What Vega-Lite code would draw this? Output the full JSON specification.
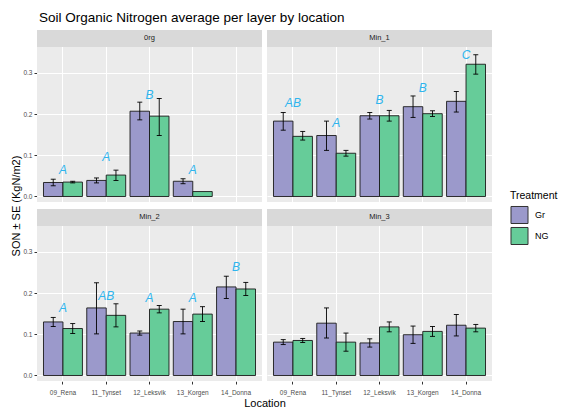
{
  "$schema": "https://vega.github.io/schema/vega-lite/v6.json",
  "padding": {"left": 10, "top": 10, "right": 0, "bottom": 0},
  "title": {"text": "Soil Organic Nitrogen average per layer by location", "anchor": "start", "fontSize": 13.5, "fontWeight": "normal", "color": "#000000", "offset": 6, "dx": 28},
  "datasets": {
    "panels": [
      {"layer": "0rg", "prow": "1", "pcol": "1"},
      {"layer": "Min_1", "prow": "1", "pcol": "2"},
      {"layer": "Min_2", "prow": "2", "pcol": "1"},
      {"layer": "Min_3", "prow": "2", "pcol": "2"}
    ],
    "son": [
      {"layer": "0rg", "location": "09_Rena", "treatment": "Gr", "son": 0.034, "lo": 0.026, "hi": 0.042},
      {"layer": "0rg", "location": "09_Rena", "treatment": "NG", "son": 0.035, "lo": 0.033, "hi": 0.037},
      {"layer": "0rg", "location": "11_Tynset", "treatment": "Gr", "son": 0.039, "lo": 0.033, "hi": 0.045},
      {"layer": "0rg", "location": "11_Tynset", "treatment": "NG", "son": 0.052, "lo": 0.039, "hi": 0.064},
      {"layer": "0rg", "location": "12_Leksvik", "treatment": "Gr", "son": 0.207, "lo": 0.186, "hi": 0.229},
      {"layer": "0rg", "location": "12_Leksvik", "treatment": "NG", "son": 0.195, "lo": 0.148, "hi": 0.238},
      {"layer": "0rg", "location": "13_Korgen", "treatment": "Gr", "son": 0.037, "lo": 0.031, "hi": 0.043},
      {"layer": "0rg", "location": "13_Korgen", "treatment": "NG", "son": 0.012, "lo": null, "hi": null},
      {"layer": "Min_1", "location": "09_Rena", "treatment": "Gr", "son": 0.183, "lo": 0.161, "hi": 0.204},
      {"layer": "Min_1", "location": "09_Rena", "treatment": "NG", "son": 0.146, "lo": 0.137, "hi": 0.158},
      {"layer": "Min_1", "location": "11_Tynset", "treatment": "Gr", "son": 0.148, "lo": 0.112, "hi": 0.183},
      {"layer": "Min_1", "location": "11_Tynset", "treatment": "NG", "son": 0.105, "lo": 0.098, "hi": 0.112},
      {"layer": "Min_1", "location": "12_Leksvik", "treatment": "Gr", "son": 0.196, "lo": 0.188, "hi": 0.204},
      {"layer": "Min_1", "location": "12_Leksvik", "treatment": "NG", "son": 0.196, "lo": 0.183, "hi": 0.209},
      {"layer": "Min_1", "location": "13_Korgen", "treatment": "Gr", "son": 0.218, "lo": 0.192, "hi": 0.244},
      {"layer": "Min_1", "location": "13_Korgen", "treatment": "NG", "son": 0.201, "lo": 0.194, "hi": 0.208},
      {"layer": "Min_1", "location": "14_Donna", "treatment": "Gr", "son": 0.231, "lo": 0.205, "hi": 0.255},
      {"layer": "Min_1", "location": "14_Donna", "treatment": "NG", "son": 0.321, "lo": 0.297, "hi": 0.344},
      {"layer": "Min_2", "location": "09_Rena", "treatment": "Gr", "son": 0.130, "lo": 0.119, "hi": 0.141},
      {"layer": "Min_2", "location": "09_Rena", "treatment": "NG", "son": 0.114, "lo": 0.102, "hi": 0.126},
      {"layer": "Min_2", "location": "11_Tynset", "treatment": "Gr", "son": 0.164, "lo": 0.101, "hi": 0.225},
      {"layer": "Min_2", "location": "11_Tynset", "treatment": "NG", "son": 0.146, "lo": 0.118, "hi": 0.174},
      {"layer": "Min_2", "location": "12_Leksvik", "treatment": "Gr", "son": 0.103, "lo": 0.098, "hi": 0.108},
      {"layer": "Min_2", "location": "12_Leksvik", "treatment": "NG", "son": 0.161, "lo": 0.152, "hi": 0.170},
      {"layer": "Min_2", "location": "13_Korgen", "treatment": "Gr", "son": 0.131, "lo": 0.101, "hi": 0.161},
      {"layer": "Min_2", "location": "13_Korgen", "treatment": "NG", "son": 0.149, "lo": 0.131, "hi": 0.167},
      {"layer": "Min_2", "location": "14_Donna", "treatment": "Gr", "son": 0.215, "lo": 0.187, "hi": 0.241},
      {"layer": "Min_2", "location": "14_Donna", "treatment": "NG", "son": 0.210, "lo": 0.194, "hi": 0.226},
      {"layer": "Min_3", "location": "09_Rena", "treatment": "Gr", "son": 0.081, "lo": 0.075, "hi": 0.087},
      {"layer": "Min_3", "location": "09_Rena", "treatment": "NG", "son": 0.085, "lo": 0.080, "hi": 0.090},
      {"layer": "Min_3", "location": "11_Tynset", "treatment": "Gr", "son": 0.127, "lo": 0.091, "hi": 0.164},
      {"layer": "Min_3", "location": "11_Tynset", "treatment": "NG", "son": 0.081, "lo": 0.059, "hi": 0.103},
      {"layer": "Min_3", "location": "12_Leksvik", "treatment": "Gr", "son": 0.079, "lo": 0.069, "hi": 0.089},
      {"layer": "Min_3", "location": "12_Leksvik", "treatment": "NG", "son": 0.118, "lo": 0.106, "hi": 0.130},
      {"layer": "Min_3", "location": "13_Korgen", "treatment": "Gr", "son": 0.099, "lo": 0.078, "hi": 0.120},
      {"layer": "Min_3", "location": "13_Korgen", "treatment": "NG", "son": 0.107, "lo": 0.095, "hi": 0.119},
      {"layer": "Min_3", "location": "14_Donna", "treatment": "Gr", "son": 0.122, "lo": 0.096, "hi": 0.148},
      {"layer": "Min_3", "location": "14_Donna", "treatment": "NG", "son": 0.115, "lo": 0.106, "hi": 0.124},
      {"layer": "0rg", "location": "09_Rena", "letter": "A", "ly": 0.065},
      {"layer": "0rg", "location": "11_Tynset", "letter": "A", "ly": 0.095},
      {"layer": "0rg", "location": "12_Leksvik", "letter": "B", "ly": 0.247},
      {"layer": "0rg", "location": "13_Korgen", "letter": "A", "ly": 0.065},
      {"layer": "Min_1", "location": "09_Rena", "letter": "AB", "ly": 0.226},
      {"layer": "Min_1", "location": "11_Tynset", "letter": "A", "ly": 0.178},
      {"layer": "Min_1", "location": "12_Leksvik", "letter": "B", "ly": 0.234},
      {"layer": "Min_1", "location": "13_Korgen", "letter": "B", "ly": 0.263},
      {"layer": "Min_1", "location": "14_Donna", "letter": "C", "ly": 0.344},
      {"layer": "Min_2", "location": "09_Rena", "letter": "A", "ly": 0.165},
      {"layer": "Min_2", "location": "11_Tynset", "letter": "AB", "ly": 0.193},
      {"layer": "Min_2", "location": "12_Leksvik", "letter": "A", "ly": 0.188},
      {"layer": "Min_2", "location": "13_Korgen", "letter": "A", "ly": 0.188},
      {"layer": "Min_2", "location": "14_Donna", "letter": "B", "ly": 0.264}
    ]
  },
  "data": {"name": "son"},
  "transform": [
    {"lookup": "layer", "from": {"data": {"name": "panels"}, "key": "layer", "fields": ["prow", "pcol"]}}
  ],
  "facet": {
    "row": {"field": "prow", "type": "nominal", "header": {"labels": false, "labelPadding": 0, "title": "SON ± SE (KgN/m2)", "titleFontSize": 11, "titleFontWeight": "normal", "titleColor": "#000000", "titlePadding": -10}},
    "column": {"field": "pcol", "type": "nominal", "header": {"labels": false, "labelPadding": 0, "title": "Location", "titleOrient": "bottom", "titleFontSize": 11, "titleFontWeight": "normal", "titleColor": "#000000", "titlePadding": -8}}
  },
  "spacing": {"row": 7, "column": 5},
  "spec": {
    "width": 225,
    "height": 172,
    "layer": [
      {
        "transform": [{"filter": "datum.son != null"}],
        "mark": {"type": "bar", "stroke": "#1A1A1A", "strokeWidth": 0.9},
        "encoding": {
          "x": {"field": "location", "type": "nominal", "scale": {"domain": ["09_Rena", "11_Tynset", "12_Leksvik", "13_Korgen", "14_Donna"], "paddingInner": 0.1, "paddingOuter": 0.15},
            "axis": {"title": null, "bandPosition": 0.5, "grid": true, "gridColor": "#FFFFFF", "gridWidth": 1, "labelFontSize": 6.5, "labelColor": "#4D4D4D", "tickColor": "#333333", "tickSize": 3, "domain": false, "labelPadding": 5, "labelAngle": 0}},
          "xOffset": {"field": "treatment", "type": "nominal", "scale": {"domain": ["Gr", "NG"]}},
          "y": {"field": "son", "type": "quantitative", "scale": {"domain": [-0.01335, 0.4041], "nice": false, "zero": false},
            "axis": {"title": null, "values": [0, 0.05, 0.1, 0.15, 0.2, 0.25, 0.3, 0.35], "labelExpr": "round(datum.value*20)%2==0 ? format(datum.value, '.1f') : ''",
              "gridColor": "#FFFFFF", "gridWidth": {"condition": {"test": "round(datum.value*20)%2==1", "value": 0.5}, "value": 1},
              "tickOpacity": {"condition": {"test": "round(datum.value*20)%2==1", "value": 0}, "value": 1},
              "tickColor": "#333333", "tickSize": 3, "labelFontSize": 6.5, "labelColor": "#4D4D4D", "domain": false, "labelPadding": 2}},
          "color": {"field": "treatment", "type": "nominal", "scale": {"domain": ["Gr", "NG"], "range": ["#9B99CB", "#66CC99"]},
            "legend": {"orient": "none", "legendX": 473, "legendY": 161, "title": "Treatment", "titleFontSize": 10.5, "titleFontWeight": "normal", "titleColor": "#000000", "titlePadding": 4, "labelFontSize": 9, "labelColor": "#000000", "labelOffset": 6, "symbolType": "square", "symbolSize": 290, "symbolStrokeColor": "#333333", "symbolStrokeWidth": 1, "symbolOpacity": 1, "rowPadding": -4}}
        }
      },
      {
        "transform": [{"filter": "datum.lo != null"}],
        "mark": {"type": "rule", "color": "#000000", "strokeWidth": 0.9},
        "encoding": {
          "x": {"field": "location", "type": "nominal"},
          "xOffset": {"field": "treatment", "type": "nominal"},
          "y": {"field": "lo", "type": "quantitative"},
          "y2": {"field": "hi"}
        }
      },
      {
        "transform": [{"filter": "datum.lo != null"}],
        "mark": {"type": "tick", "color": "#000000", "thickness": 0.9, "size": 5, "orient": "horizontal", "opacity": 1},
        "encoding": {
          "x": {"field": "location", "type": "nominal"},
          "xOffset": {"field": "treatment", "type": "nominal"},
          "y": {"field": "lo", "type": "quantitative"}
        }
      },
      {
        "transform": [{"filter": "datum.hi != null"}],
        "mark": {"type": "tick", "color": "#000000", "thickness": 0.9, "size": 5, "orient": "horizontal", "opacity": 1},
        "encoding": {
          "x": {"field": "location", "type": "nominal"},
          "xOffset": {"field": "treatment", "type": "nominal"},
          "y": {"field": "hi", "type": "quantitative"}
        }
      },
      {
        "transform": [{"filter": "datum.letter != null"}],
        "mark": {"type": "text", "color": "#2FB5EE", "fontStyle": "italic", "fontSize": 12},
        "encoding": {
          "x": {"field": "location", "type": "nominal"},
          "y": {"field": "ly", "type": "quantitative"},
          "text": {"field": "letter"}
        }
      },
      {
        "transform": [{"filter": "datum.treatment == 'Gr' && datum.location == '09_Rena'"}],
        "mark": {"type": "rect", "color": "#D9D9D9"},
        "encoding": {
          "y": {"datum": 0.3628, "type": "quantitative"},
          "y2": {"datum": 0.4041}
        }
      },
      {
        "transform": [{"filter": "datum.treatment == 'Gr' && datum.location == '09_Rena'"}],
        "mark": {"type": "text", "color": "#1A1A1A", "fontSize": 7.5},
        "encoding": {
          "y": {"datum": 0.3835, "type": "quantitative"},
          "text": {"field": "layer"}
        }
      }
    ]
  },
  "config": {
    "font": "Liberation Sans",
    "view": {"fill": "#EBEBEB", "stroke": null},
    "axis": {"domain": false}
  }
}
